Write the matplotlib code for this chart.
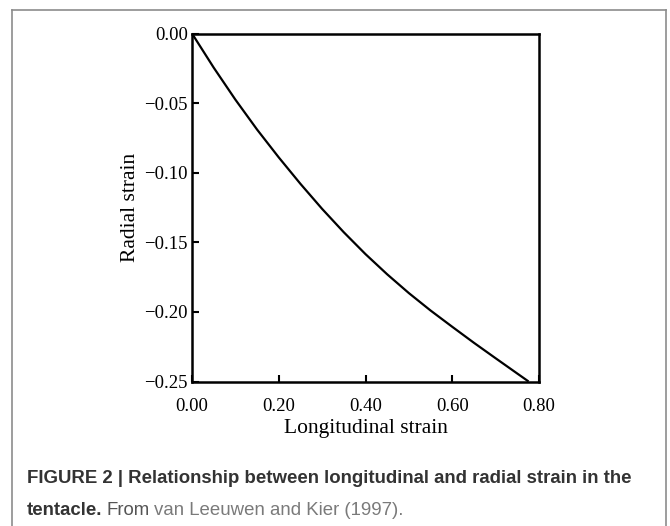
import matplotlib
matplotlib.use("Agg")
import matplotlib.pyplot as plt
from matplotlib.lines import Line2D

# Data
longitudinal_strain = [0.0, 0.05, 0.10, 0.15, 0.20, 0.25, 0.30, 0.35, 0.40,
                       0.45, 0.50, 0.55, 0.60, 0.65, 0.70, 0.75, 0.776]
radial_strain = [0.0, -0.0245, -0.0475, -0.0690, -0.0890, -0.1080, -0.1260,
                 -0.1428, -0.1585, -0.1730, -0.1865, -0.1990, -0.2107, -0.2222,
                 -0.2333, -0.2443, -0.2500]

x_ticks = [0.0, 0.2, 0.4, 0.6, 0.8]
x_tick_labels = ["0.00", "0.20", "0.40", "0.60", "0.80"]
y_ticks = [0.0, -0.05, -0.10, -0.15, -0.20, -0.25]
y_tick_labels = ["0.00", "\u22120.05", "\u22120.10", "\u22120.15", "\u22120.20", "\u22120.25"]

W, H = 670, 526
fig = plt.figure(figsize=(W / 100, H / 100), dpi=100)
fig.patch.set_facecolor("white")

serif = ["Liberation Serif", "DejaVu Serif"]
sans = ["Liberation Sans", "DejaVu Sans"]

ax = fig.add_axes([192 / W, 1 - 381.5 / H, 347 / W, 348 / H])
ax.plot(longitudinal_strain, radial_strain, color="black", lw=1.6,
        solid_capstyle="butt", solid_joinstyle="round")
ax.set_xlim(0, 0.8)
ax.set_ylim(-0.25, 0)
ax.set_xticks(x_ticks)
ax.set_xticklabels(x_tick_labels, fontfamily=serif, fontsize=13.5)
ax.set_yticks(y_ticks)
ax.set_yticklabels(y_tick_labels, fontfamily=serif, fontsize=13.5)
ax.tick_params(axis="x", direction="in", length=5, width=1.5, pad=12)
ax.tick_params(axis="y", direction="in", length=5, width=1.5, pad=3)
for s in ax.spines.values():
    s.set_linewidth(1.8)
ax.set_xlabel("Longitudinal strain", fontfamily=serif, fontsize=15.5, labelpad=3)
ax.set_ylabel("Radial strain", fontfamily=serif, fontsize=15.5, labelpad=3)

# Frame border
bc = "#8c8c8c"
def fx(px):
    return px / W
def fy(py):
    return 1 - py / H
fig.add_artist(Line2D([fx(12), fx(12)], [fy(10), fy(530)], color=bc, lw=1.2))
fig.add_artist(Line2D([fx(12), fx(666)], [fy(10), fy(10)], color=bc, lw=1.2))
fig.add_artist(Line2D([fx(666), fx(666)], [fy(10), fy(530)], color=bc, lw=1.2))

# Caption
cap_size = 13.4
t1 = fig.text(fx(27), fy(483), "FIGURE 2 | Relationship between longitudinal and radial strain in the",
              fontfamily=sans, fontweight="bold", fontsize=cap_size, color="#333333",
              va="baseline", ha="left")
t2 = fig.text(fx(27), fy(515), "tentacle.", fontfamily=sans, fontweight="bold",
              fontsize=cap_size, color="#333333", va="baseline", ha="left")
fig.canvas.draw()
r = fig.canvas.get_renderer()
bb = t2.get_window_extent(r)
t3 = fig.text((bb.x1 + 4) / W, fy(515), "From", fontfamily=sans, fontsize=cap_size,
              color="#555555", va="baseline", ha="left")
fig.canvas.draw()
bb = t3.get_window_extent(r)
t4 = fig.text((bb.x1 + 4) / W, fy(515), "van Leeuwen and Kier (1997).", fontfamily=sans,
              fontsize=cap_size, color="#7a7a7a", va="baseline", ha="left")

fig.savefig("out.png", dpi=100, facecolor="white")
